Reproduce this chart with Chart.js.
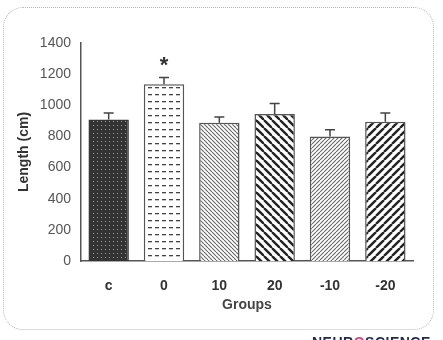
<!DOCTYPE html>
<html>
<head>
<meta charset="utf-8">
<script src="https://cdn.jsdelivr.net/npm/chart.js@4.4.0/dist/chart.umd.min.js"></script>
<style>
    body { margin: 0; background: #fff; }
    #wrap { position: relative; width: 443px; height: 340px; overflow: hidden; }
    #frame {
        position: absolute; left: 3px; top: 7px; width: 429px; height: 321px;
        border: 1px dotted #b5b5b5; border-radius: 20px;
    }
    #chart { position: absolute; left: 0; top: 0; }
    #logo {
        position: absolute; left: 312px; top: 334px;
        font: bold 14px "Liberation Sans", Arial, sans-serif; color: #1d2b4f;
        letter-spacing: 0.5px; white-space: nowrap;
    }
    #logo span { color: #e0457b; }
</style>
</head>
<body>
<div id="wrap">
    <div id="frame"></div>
    <canvas id="chart" width="443" height="340"></canvas>
    <div id="logo">NEUR<span>O</span>SCIENCE</div>
</div>
<script>
const groups = ['c', '0', '10', '20', '-10', '-20'];
const lengths = [909, 1135, 888, 944, 800, 895];
const errors = [41, 43, 36, 67, 43, 55];
const marks = ['', '*', '', '', '', ''];
const yTicks = [0, 200, 400, 600, 800, 1000, 1200, 1400];

function makePattern(size, draw) {
    const c = document.createElement('canvas');
    c.width = size;
    c.height = size;
    const g = c.getContext('2d');
    draw(g, size);
    return g.createPattern(c, 'repeat');
}

function dots(g, s) {
    g.fillStyle = '#333';
    g.fillRect(0, 0, s, s);
    g.fillStyle = '#9a9a9a';
    g.fillRect(1, 1, 1, 1);
}

function dashes(g, s) {
    g.fillStyle = '#fff';
    g.fillRect(0, 0, s, s);
    g.fillStyle = '#444';
    g.fillRect(1, 3, 4, 1.3);
}

function diag(dir, color, width) {
    return function (g, s) {
        g.fillStyle = '#fff';
        g.fillRect(0, 0, s, s);
        g.strokeStyle = color;
        g.lineWidth = width;
        [-s, 0, s].forEach(k => {
            g.beginPath();
            if (dir === 'back') {
                g.moveTo(k, 0);
                g.lineTo(k + s, s);
            } else {
                g.moveTo(k, s);
                g.lineTo(k + s, 0);
            }
            g.stroke();
        });
    };
}

const fills = [
    makePattern(4, dots),
    makePattern(7, dashes),
    makePattern(4, diag('back', '#666', 1.1)),
    makePattern(8, diag('back', '#222', 2.4)),
    makePattern(4, diag('fwd', '#666', 1.1)),
    makePattern(8, diag('fwd', '#222', 2.4))
];

const errorBars = {
    id: 'errorBars',
    afterDatasetsDraw(chart) {
        const ctx = chart.ctx;
        const y = chart.scales.y;
        const meta = chart.getDatasetMeta(0);
        ctx.save();
        ctx.strokeStyle = '#444';
        ctx.lineWidth = 1.5;
        meta.data.forEach((bar, i) => {
            const top = y.getPixelForValue(lengths[i] + errors[i]);
            ctx.beginPath();
            ctx.moveTo(bar.x, bar.y);
            ctx.lineTo(bar.x, top);
            ctx.moveTo(bar.x - 5, top);
            ctx.lineTo(bar.x + 5, top);
            ctx.stroke();
            if (marks[i]) {
                ctx.fillStyle = '#333';
                ctx.font = 'bold 22px "Liberation Sans", Arial, sans-serif';
                ctx.textAlign = 'center';
                ctx.textBaseline = 'middle';
                ctx.fillText(marks[i], bar.x, top - 12);
            }
        });
        ctx.restore();
    }
};

const ctx = document.getElementById('chart').getContext('2d');
new Chart(ctx, {
    type: 'bar',
    data: {
        labels: groups,
        datasets: [{
            data: lengths,
            backgroundColor: fills,
            borderColor: ['#333', '#555', '#555', '#555', '#555', '#555'],
            borderWidth: 1.5,
            borderSkipped: 'bottom',
            categoryPercentage: 1,
            barPercentage: 0.73
        }]
    },
    options: {
        responsive: false,
        animation: false,
        layout: { padding: { left: 0, top: 43, right: 30, bottom: 22 } },
        plugins: {
            legend: { display: false },
            tooltip: { enabled: false }
        },
        scales: {
            x: {
                grid: { display: false, drawTicks: false },
                border: { color: '#555', width: 1.5 },
                ticks: {
                    padding: 17,
                    color: '#333',
                    font: { family: 'Liberation Sans', size: 14, weight: 'bold' }
                },
                title: {
                    display: true,
                    text: 'Groups',
                    color: '#444',
                    padding: { top: 4, bottom: 4 },
                    font: { family: 'Liberation Sans', size: 14, weight: 'bold' }
                },
                afterFit(scale) { scale.height = 57; }
            },
            y: {
                min: 0,
                max: 1400,
                afterBuildTicks(scale) {
                    scale.ticks = yTicks.map(v => ({ value: v }));
                },
                grid: { display: false, drawTicks: true, tickLength: 4, tickColor: '#555', tickWidth: 1.5 },
                border: { color: '#555', width: 1.5 },
                ticks: {
                    padding: 6,
                    color: '#555',
                    font: { family: 'Liberation Sans', size: 14 },
                    callback: value => String(value)
                },
                title: {
                    display: true,
                    text: 'Length (cm)',
                    color: '#333',
                    padding: { top: 16, bottom: 0 },
                    font: { family: 'Liberation Sans', size: 14, weight: 'bold' }
                },
                afterFit(scale) { scale.width = 81; }
            }
        }
    },
    plugins: [errorBars]
});
</script>
</body>
</html>
